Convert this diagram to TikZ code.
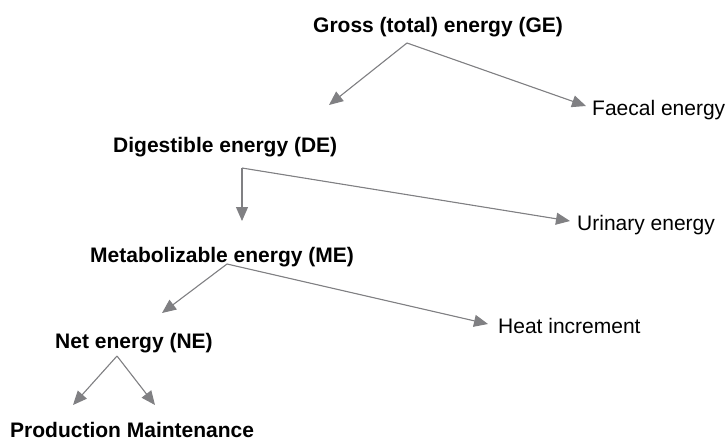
\documentclass[tikz,border=0pt]{standalone}
\usepackage{fontspec}
\setmainfont{Liberation Sans}
\usetikzlibrary{arrows.meta}
\definecolor{arrgray}{RGB}{128,128,131}
\tikzset{
  lbl/.style={anchor=base west, inner sep=0pt, font=\fontsize{21}{25}\selectfont},
  blbl/.style={lbl, font=\fontsize{21}{25}\selectfont\bfseries},
  flow/.style={draw=arrgray, line width=1.1pt, -{Triangle[length=14pt,width=12pt]}, fill=arrgray},
  link/.style={draw=arrgray, line width=1.1pt}
}
\begin{document}
\begin{tikzpicture}[x=1pt,y=-1pt]
\useasboundingbox (0,0) rectangle (725,445);
% text nodes
\node[blbl] (GE) at (313,32) {Gross (total) energy (GE)};
\node[lbl]  (FE) at (592,115) {Faecal energy};
\node[blbl] (DE) at (113,152) {Digestible energy (DE)};
\node[lbl]  (UE) at (577,230) {Urinary energy};
\node[blbl] (ME) at (90,262) {Metabolizable energy (ME)};
\node[lbl]  (HI) at (498,333) {Heat increment};
\node[blbl] (NE) at (55,348) {Net energy (NE)};
\node[blbl] (PM) at (10,437) {Production Maintenance};
% connector points
\coordinate (geS) at (407,43);
\coordinate (deT) at (329,105);
\coordinate (feT) at (586,106);
\coordinate (deS) at (242,168);
\coordinate (meT) at (242,221);
\coordinate (ueT) at (570,221);
\coordinate (meS) at (227,264);
\coordinate (neT) at (162,313);
\coordinate (hiT) at (488,324);
\coordinate (neS) at (117,356);
\coordinate (prT) at (73,405);
\coordinate (maT) at (155,405);
% connectors
\draw[flow] (geS) -- (deT);
\draw[flow] (geS) -- (feT);
\draw[flow] (deS) -- (meT);
\draw[flow] (deS) -- (ueT);
\draw[flow] (meS) -- (neT);
\draw[flow] (meS) -- (hiT);
\draw[flow] (neS) -- (prT);
\draw[flow] (neS) -- (maT);
\end{tikzpicture}
\end{document}
